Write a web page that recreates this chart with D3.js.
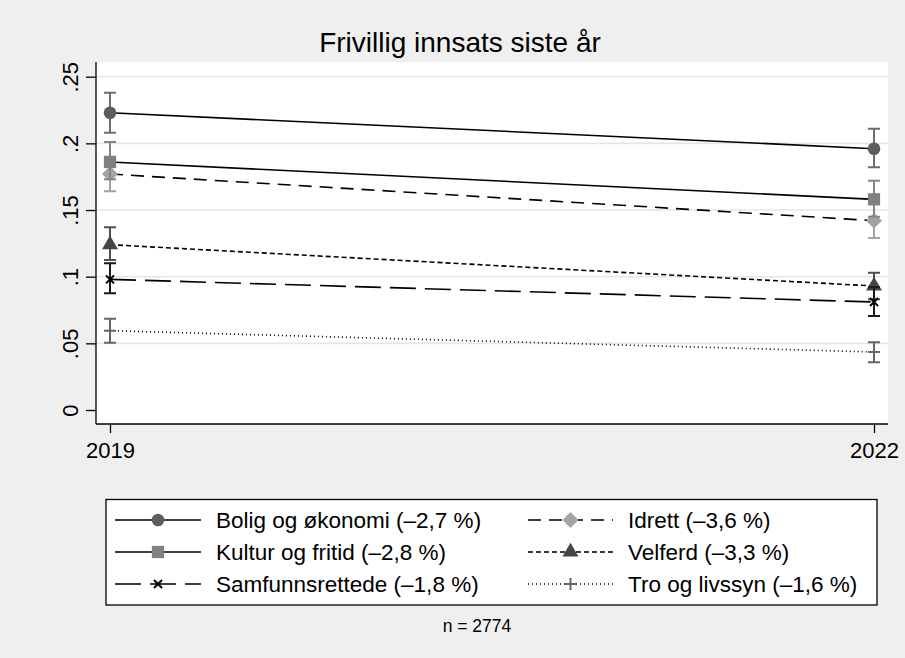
<!DOCTYPE html>
<html>
<head>
<meta charset="utf-8">
<script src="https://cdn.jsdelivr.net/npm/d3@7"></script>
<style>
  body { margin: 0; background: #efefef; }
  svg { display: block; font-family: "Liberation Sans", Arial, sans-serif; }
</style>
</head>
<body>
<svg id="chart"></svg>
<script>
// data
var years = [2019, 2022];
var seriesNames = ['Bolig og økonomi (–2,7 %)', 'Kultur og fritid (–2,8 %)', 'Samfunnsrettede (–1,8 %)',
                   'Idrett (–3,6 %)', 'Velferd (–3,3 %)', 'Tro og livssyn (–1,6 %)'];
var bolig = [0.223, 0.196];
var boligLo = [0.208, 0.182];
var boligHi = [0.238, 0.211];
var kultur = [0.186, 0.158];
var kulturLo = [0.173, 0.145];
var kulturHi = [0.201, 0.172];
var samfunn = [0.098, 0.081];
var samfunnLo = [0.0875, 0.0705];
var samfunnHi = [0.110, 0.092];
var idrett = [0.177, 0.142];
var idrettLo = [0.164, 0.129];
var idrettHi = [0.190, 0.155];
var velferd = [0.124, 0.093];
var velferdLo = [0.1125, 0.083];
var velferdHi = [0.137, 0.103];
var tro = [0.0595, 0.0435];
var troLo = [0.0505, 0.0358];
var troHi = [0.0685, 0.0508];
var yTicks = [0, 0.05, 0.1, 0.15, 0.2, 0.25];
var yTickLabels = ['0', '.05', '.1', '.15', '.2', '.25'];

var W = 905, H = 658;
var svg = d3.select('#chart').attr('width', W).attr('height', H);

svg.append('rect').attr('width', W).attr('height', H).attr('fill', '#efefef');

// plot region
var plot = { left: 96, right: 888, top: 62, bottom: 424 };
svg.append('rect')
  .attr('x', plot.left).attr('y', plot.top)
  .attr('width', plot.right - plot.left).attr('height', plot.bottom - plot.top)
  .attr('fill', '#fff');

var x = d3.scaleLinear().domain([2019, 2022]).range([110, 874]);
var y = d3.scaleLinear().domain([0, 0.25]).range([410, 76.7]);

// grid
svg.append('g').selectAll('line')
  .data(yTicks.filter(function(d) { return d > 0; }))
  .enter().append('line')
  .attr('x1', plot.left).attr('x2', plot.right)
  .attr('y1', function(d) { return y(d); })
  .attr('y2', function(d) { return y(d); })
  .attr('stroke', '#e6e6e6').attr('stroke-width', 1.6);

// axes
var yAxis = svg.append('g')
  .attr('transform', 'translate(' + plot.left + ',0)')
  .call(d3.axisLeft(y).tickValues(yTicks).tickSize(10).tickPadding(6)
    .tickFormat(function(d, i) { return yTickLabels[i]; }));
yAxis.select('.domain').attr('d', 'M0,' + plot.top + 'V' + plot.bottom).attr('stroke', '#000').attr('stroke-width', 1.3);
yAxis.selectAll('.tick line').attr('stroke', '#000').attr('stroke-width', 1.3);
yAxis.selectAll('.tick text')
  .attr('font-size', 22)
  .attr('fill', '#000')
  .attr('x', 0).attr('y', 0).attr('dy', 0)
  .attr('transform', 'translate(-18,0) rotate(-90)')
  .attr('text-anchor', 'middle');

var xAxis = svg.append('g')
  .attr('transform', 'translate(0,' + plot.bottom + ')')
  .call(d3.axisBottom(x).tickValues(years).tickSize(9).tickPadding(9).tickFormat(d3.format('d')));
xAxis.select('.domain').attr('d', 'M' + plot.left + ',0H' + plot.right).attr('stroke', '#000').attr('stroke-width', 1.3);
xAxis.selectAll('.tick line').attr('stroke', '#000').attr('stroke-width', 1.3);
xAxis.selectAll('.tick text').attr('font-size', 22).attr('fill', '#000');

// title
svg.append('text')
  .attr('x', 460).attr('y', 52)
  .attr('text-anchor', 'middle')
  .attr('font-size', 28)
  .text('Frivillig innsats siste år');

var series = [
  { name: seriesNames[0], v: bolig, lo: boligLo, hi: boligHi, dash: null, marker: 'circle', color: '#5e5e5e', ci: '#6e6e6e' },
  { name: seriesNames[1], v: kultur, lo: kulturLo, hi: kulturHi, dash: null, marker: 'square', color: '#808080', ci: '#858585' },
  { name: seriesNames[2], v: samfunn, lo: samfunnLo, hi: samfunnHi, dash: '26,9', marker: 'cross', color: '#000', ci: '#1a1a1a' },
  { name: seriesNames[3], v: idrett, lo: idrettLo, hi: idrettHi, dash: '13,8', marker: 'diamond', color: '#a3a3a3', ci: '#a3a3a3' },
  { name: seriesNames[4], v: velferd, lo: velferdLo, hi: velferdHi, dash: '5,3', marker: 'triangle', color: '#454545', ci: '#505050' },
  { name: seriesNames[5], v: tro, lo: troLo, hi: troHi, dash: '1,3', marker: 'plus', color: '#666', ci: '#666' }
];

var symbols = {
  circle: d3.symbol().type(d3.symbolCircle).size(125),
  square: d3.symbol().type(d3.symbolSquare).size(150),
  diamond: d3.symbol().type(d3.symbolDiamond2).size(160),
  triangle: d3.symbol().type(d3.symbolTriangle).size(110)
};

function drawMarker(g, s, cx, cy) {
  if (s.marker === 'cross') {
    g.append('path').attr('d', 'M' + (cx - 4) + ',' + (cy - 4) + 'L' + (cx + 4) + ',' + (cy + 4) + 'M' + (cx - 4) + ',' + (cy + 4) + 'L' + (cx + 4) + ',' + (cy - 4))
      .attr('stroke', s.color).attr('stroke-width', 2);
  } else if (s.marker === 'plus') {
    g.append('path').attr('d', 'M' + (cx - 6) + ',' + cy + 'H' + (cx + 6) + 'M' + cx + ',' + (cy - 6) + 'V' + (cy + 6))
      .attr('stroke', s.color).attr('stroke-width', 2);
  } else {
    g.append('path').attr('d', symbols[s.marker]())
      .attr('transform', 'translate(' + cx + ',' + cy + ')')
      .attr('fill', s.color);
  }
}

var line = d3.line()
  .x(function(d, i) { return x(years[i]); })
  .y(function(d) { return y(d); });

var marks = svg.append('g');
// draw in reverse so the upper series sit on top
series.slice().reverse().forEach(function(s) {
  var g = marks.append('g');
  g.append('path').attr('d', line(s.v))
    .attr('fill', 'none').attr('stroke', '#000').attr('stroke-width', 1.6)
    .attr('stroke-dasharray', s.dash);
  years.forEach(function(yr, i) {
    var cx = x(yr);
    g.append('path')
      .attr('d', 'M' + cx + ',' + y(s.lo[i]) + 'V' + y(s.hi[i]) +
        'M' + (cx - 6) + ',' + y(s.lo[i]) + 'H' + (cx + 6) +
        'M' + (cx - 6) + ',' + y(s.hi[i]) + 'H' + (cx + 6))
      .attr('stroke', s.ci).attr('stroke-width', 2).attr('fill', 'none');
    drawMarker(g, s, cx, y(s.v[i]));
  });
});

// legend
var leg = svg.append('g');
leg.append('rect')
  .attr('x', 106).attr('y', 499.5).attr('width', 771).attr('height', 105.5)
  .attr('fill', '#fff').attr('stroke', '#000').attr('stroke-width', 1.3);

var rowsY = [520, 552, 584];
series.forEach(function(s, i) {
  var col = Math.floor(i / 3), row = i % 3;
  var x0 = col === 0 ? 115 : 528, x1 = col === 0 ? 201 : 613;
  var ly = rowsY[row];
  var g = leg.append('g');
  g.append('line').attr('x1', x0).attr('x2', x1).attr('y1', ly).attr('y2', ly)
    .attr('stroke', '#000').attr('stroke-width', 1.6).attr('stroke-dasharray', s.dash);
  drawMarker(g, s, (x0 + x1) / 2, ly);
  g.append('text')
    .attr('x', col === 0 ? 216 : 628).attr('y', ly + 8)
    .attr('font-size', 22.5)
    .text(s.name);
});

svg.append('text')
  .attr('x', 477).attr('y', 632)
  .attr('text-anchor', 'middle')
  .attr('font-size', 17.5)
  .text('n = 2774');
</script>
</body>
</html>
